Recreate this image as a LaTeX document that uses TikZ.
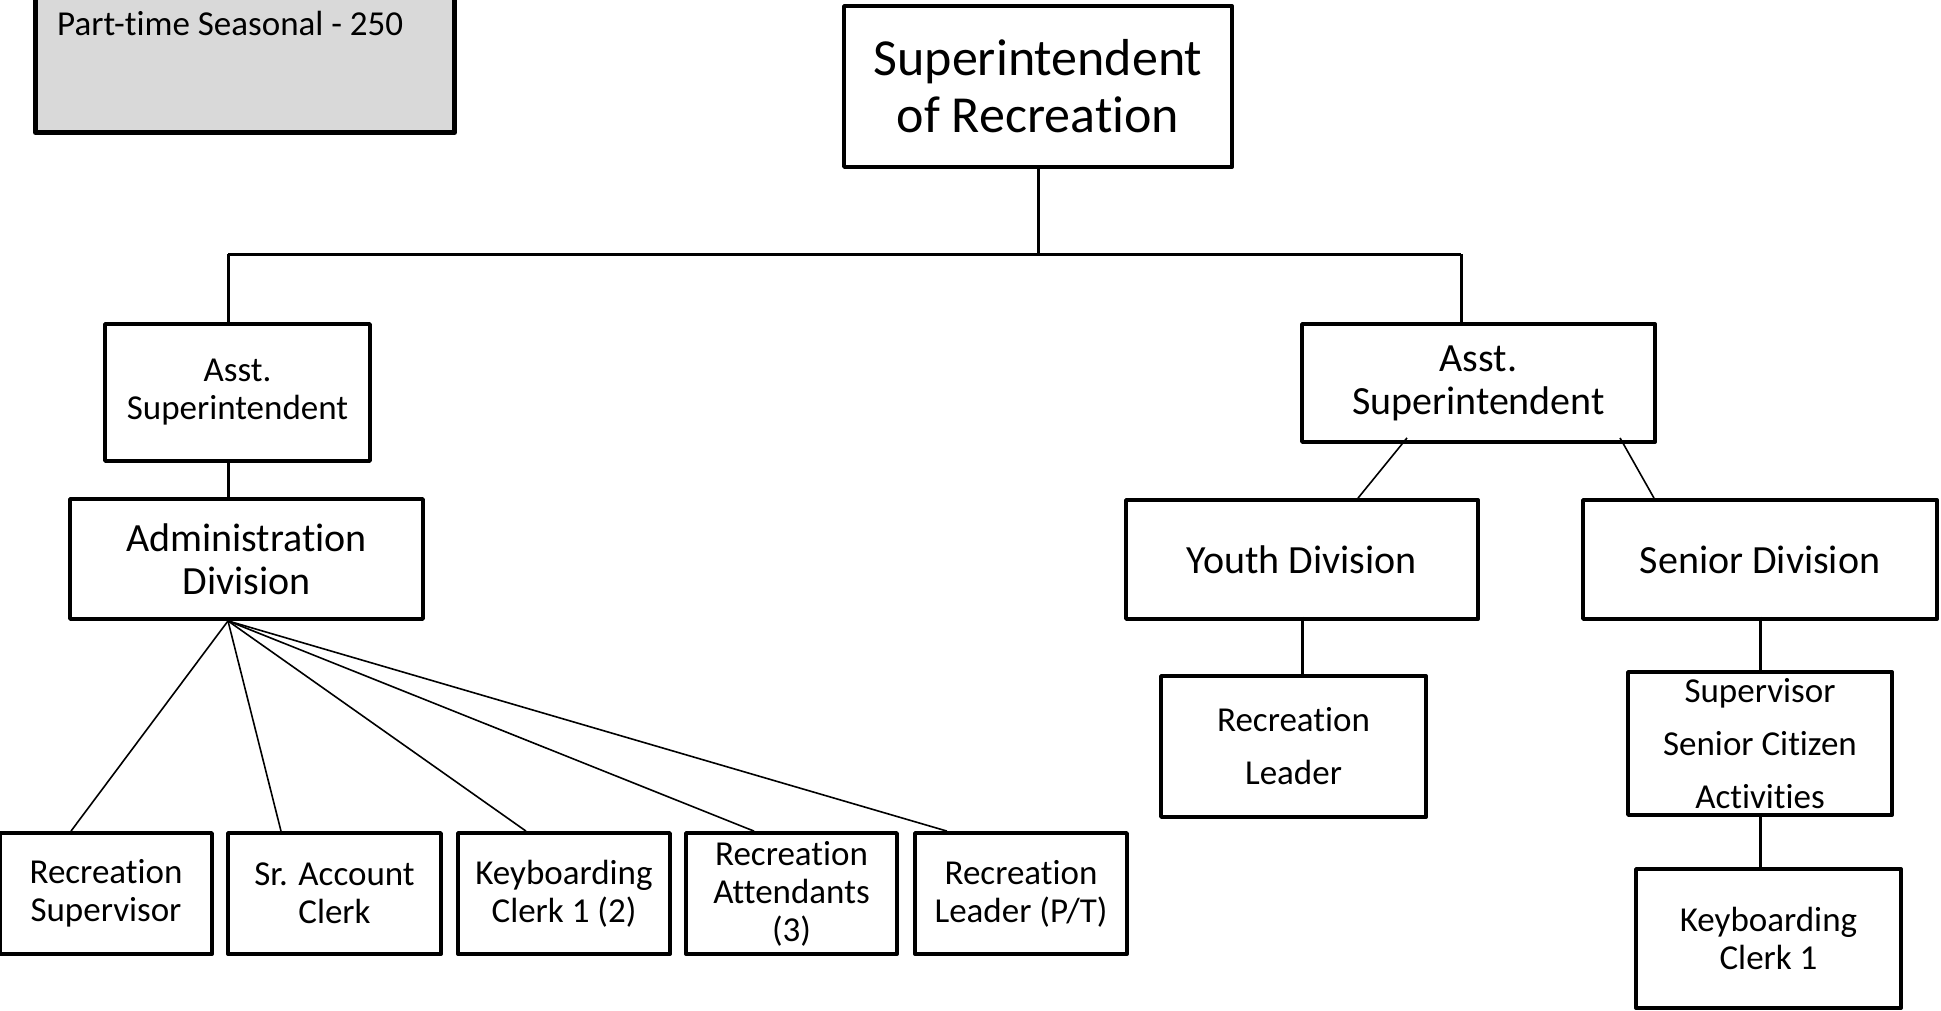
\documentclass[tikz,border=0pt]{standalone}
\usepackage{fontspec}
\setmainfont{Carlito}[Ligatures={NoCommon,NoContextual,NoRare},Contextuals={NoAlternate}]
\newcommand{\nti}{t\kern0pt i}
\begin{document}
\begin{tikzpicture}[x=1pt,y=-1pt,
  box/.style={draw,line width=3.8pt,align=center,inner sep=0pt,line join=round,fill=white},
  conn/.style={line width=3pt},
  fanline/.style={line width=1.6pt},
  ptbox/.style={draw,line width=5pt,fill=black!15,inner sep=0pt,line join=round},
  fbig/.style={font=\fontsize{52}{57}\selectfont},
  fmid/.style={font=\fontsize{40}{43}\selectfont},
  fsm/.style={font=\fontsize{35}{38}\selectfont},
  fsmw/.style={font=\fontsize{35}{53}\selectfont}]
\useasboundingbox (0,0) rectangle (1941,1010);

% legend box
\node[ptbox,anchor=north west,minimum width=419pt,minimum height=150pt] (ptbox) at (33,-20) {};
\node[fsm,anchor=base west,inner sep=0pt] (pttext) at (57,35) {Part-\nti me Seasonal - 250};

% top
\node[box,fbig,minimum width=388pt,minimum height=161pt] (sup) at (1038,86.5) {Superintendent\\of Recrea\nti on};

% left branch
\node[box,fsm,minimum width=265pt,minimum height=137pt] (asstL) at (237.5,392.5) {Asst.\\Superintendent};
\node[box,fmid,minimum width=353pt,minimum height=120pt] (admin) at (246.5,559) {Administra\nti on\\Division};

% bottom row
\node[box,fsm,minimum width=212pt,minimum height=121pt] (b1) at (106,893.5) {Recrea\nti on\\Supervisor};
\node[box,fsm,minimum width=213pt,minimum height=121pt] (b2) at (334.5,893.5) {Sr. Account\\Clerk};
\node[box,fsm,minimum width=212pt,minimum height=121pt] (b3) at (564,893.5) {Keyboarding\\Clerk 1 (2)};
\node[box,fsm,minimum width=211pt,minimum height=121pt] (b4) at (791.5,893.5) {Recrea\nti on\\Attendants\\(3)};
\node[box,fsm,minimum width=212pt,minimum height=121pt] (b5) at (1021,893.5) {Recrea\nti on\\Leader (P/T)};

% right branch
\node[box,fmid,minimum width=353pt,minimum height=118pt] (asstR) at (1478.5,383) {Asst.\\Superintendent};
\node[box,fmid,minimum width=352pt,minimum height=119pt] (youth) at (1302,559.5) {Youth Division};
\node[box,fmid,minimum width=354pt,minimum height=119pt] (senior) at (1760,559.5) {Senior Division};
\node[box,fsmw,minimum width=265pt,minimum height=141pt] (rl) at (1293.5,746.5) {Recrea\nti on\\Leader};
\node[box,fsmw,minimum width=264pt,minimum height=143pt] (supsc) at (1760,743.5) {Supervisor\\Senior Ci\nti zen\\Ac\nti vi\nti es};
\node[box,fsm,minimum width=265pt,minimum height=139pt] (kc1) at (1768.5,938.5) {Keyboarding\\Clerk 1};

% connectors
\coordinate (hl) at (228,254);
\coordinate (hr) at (1461,254);
\draw[conn] (sup.south) -- (sup.south |- hl);
\draw[conn] (hl) -- (hr);
\draw[conn] (hl) -- (hl |- asstL.north);
\draw[conn] (hr) -- (hr |- asstR.north);
\draw[conn] (hl |- asstL.south) -- (hl |- admin.north);

\coordinate (fan) at (hl |- admin.south);
\draw[fanline] (fan) -- ([xshift=-35pt]b1.north);
\draw[fanline] (fan) -- ([xshift=-53.5pt]b2.north);
\draw[fanline] (fan) -- ([xshift=-38pt]b3.north);
\draw[fanline] (fan) -- ([xshift=-37.5pt]b4.north);
\draw[fanline] (fan) -- ([xshift=-74pt]b5.north);

\draw[fanline] ([xshift=-71.5pt,yshift=6pt]asstR.south) -- ([xshift=56pt]youth.north);
\draw[fanline] ([xshift=141.5pt,yshift=6pt]asstR.south) -- ([xshift=-106pt]senior.north);

\draw[conn] ([yshift=4pt]youth.south) -- (youth.south |- rl.north);
\draw[conn] ([yshift=4pt]senior.south) -- (supsc.north);
\draw[conn] (supsc.south) -- (supsc.south |- kc1.north);
\end{tikzpicture}
\end{document}
